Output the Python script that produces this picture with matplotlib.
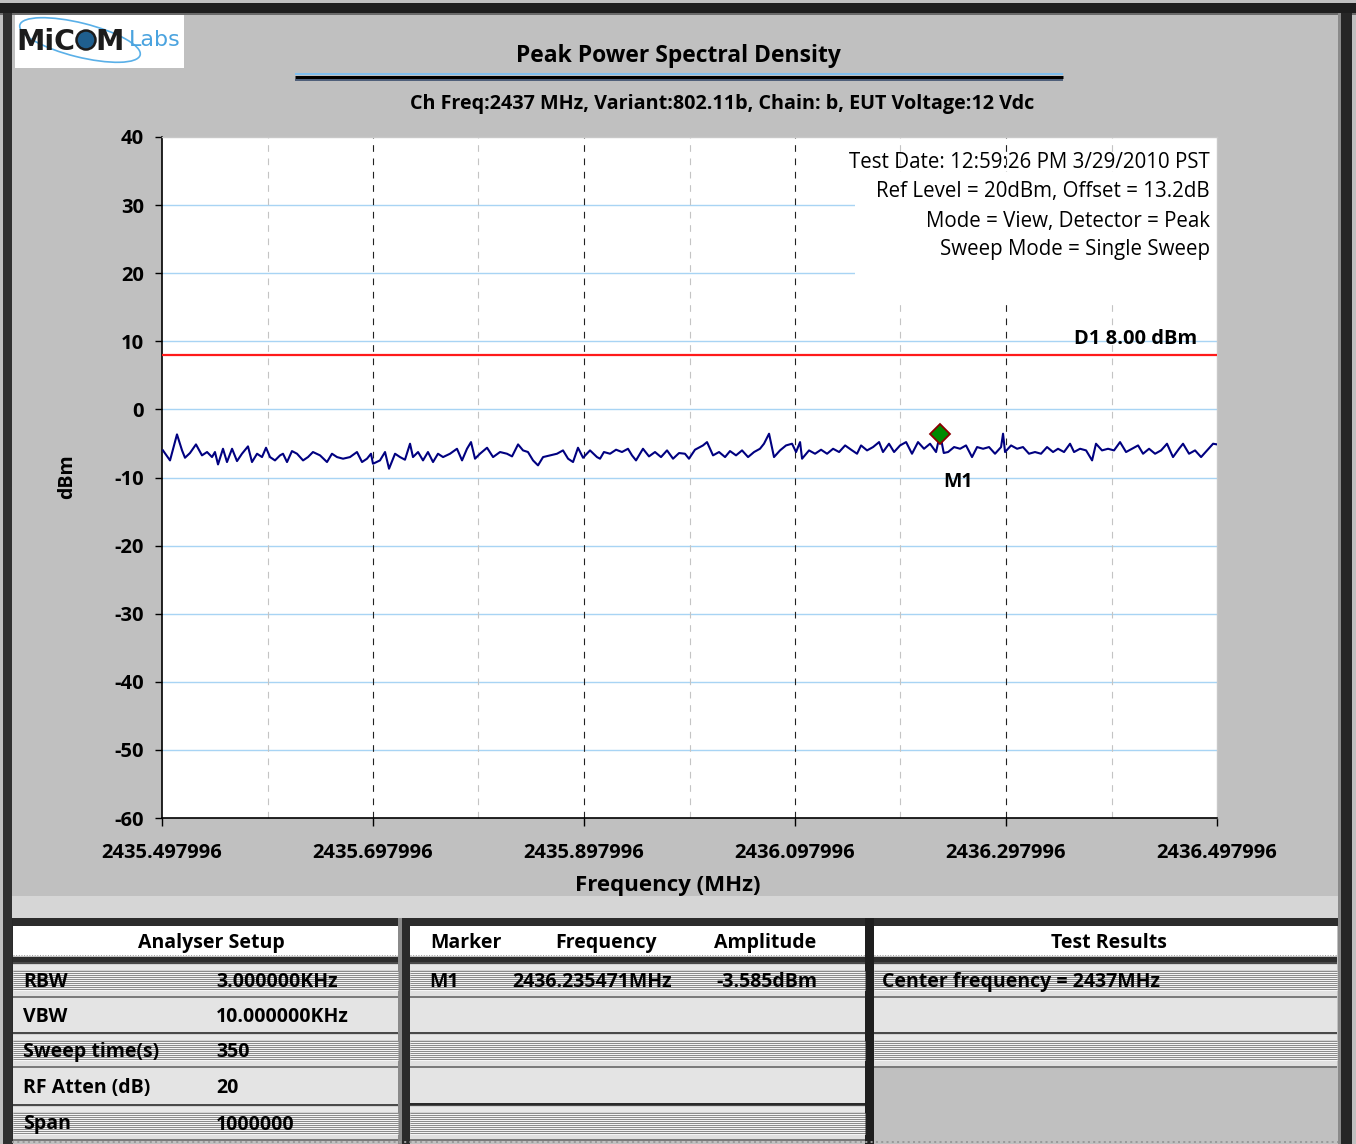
import numpy as np
import matplotlib.pyplot as plt
from matplotlib.patches import Rectangle, Ellipse, Circle

plt.rcParams['font.family'] = ['Open Sans', 'DejaVu Sans']
plt.rcParams['axes.unicode_minus'] = False

W, H = 1356, 1144

# ---- chart data ----
f_start = 2435.497996
f_stop = 2436.497996
x_ticks = [2435.497996, 2435.697996, 2435.897996, 2436.097996, 2436.297996, 2436.497996]
x_minor = [2435.597996, 2435.797996, 2435.997996, 2436.197996, 2436.397996]
y_ticks = [40, 30, 20, 10, 0, -10, -20, -30, -40, -50, -60]

# trace: offset from start frequency in kHz, amplitude in dBm
trace_khz = [0.9, 7.6, 14.2, 19.0, 21.8, 26.5, 32.2, 37.9, 42.7, 47.4, 50.2, 53.1, 57.8, 61.6,
             66.4, 71.1, 75.8, 81.5, 85.3, 90.1, 94.8, 98.6, 102.4, 107.1, 111.9, 114.7, 118.5,
             123.2, 128.0, 133.7, 138.4, 143.1, 149.8, 156.4, 161.1, 165.9, 171.6, 178.2, 184.8,
             189.6, 194.3, 198.1, 200.0, 206.6, 211.4, 215.2, 220.9, 225.6, 230.3, 235.1, 237.9,
             242.7, 247.4, 252.1, 256.9, 261.6, 266.4, 273.0, 279.6, 284.4, 289.1, 292.9, 296.7,
             301.4, 308.1, 313.8, 320.4, 327.0, 331.8, 337.5, 342.2, 346.9, 351.7, 356.4, 361.2,
             367.8, 374.4, 380.1, 384.9, 389.6, 394.3, 399.1, 405.7, 412.3, 415.2, 418.9, 424.7,
             430.4, 436.0, 441.7, 445.5, 449.3, 455.9, 461.6, 467.3, 473.0, 478.7, 484.4, 490.1,
             495.7, 499.5, 505.2, 512.8, 516.6, 522.3, 528.0, 533.7, 538.4, 544.1, 549.8, 555.5,
             561.2, 566.8, 570.6, 575.4, 580.1, 585.8, 591.5, 597.2, 601.0, 604.8, 606.7, 613.3,
             619.0, 624.7, 630.4, 636.1, 641.8, 647.5, 653.2, 658.8, 662.6, 668.3, 674.0, 679.7,
             683.4, 689.1, 693.9, 699.6, 705.3, 710.9, 716.6, 722.3, 728.0, 733.7, 737.5, 741.0,
             745.1, 750.8, 756.5, 762.1, 767.8, 772.6, 778.3, 783.9, 789.6, 795.3, 797.2, 799.1,
             804.8, 810.5, 816.1, 821.8, 827.5, 833.2, 838.9, 844.6, 849.3, 855.0, 860.7, 864.5,
             870.2, 875.9, 881.6, 885.3, 891.0, 896.7, 902.4, 908.1, 913.8, 919.5, 925.2, 929.9,
             935.6, 941.3, 947.0, 952.6, 958.3, 964.0, 967.8, 973.5, 979.2, 984.9, 990.6, 996.3,
             1000.0]
trace_dbm = [-6.02, -7.49, -3.67, -6.02, -7.10, -6.41, -5.14, -6.75, -6.26, -7.00, -6.26, -8.08,
             -5.78, -7.73, -5.78, -7.59, -6.51, -5.43, -7.73, -6.51, -7.00, -5.63, -7.00, -7.49,
             -6.75, -6.51, -7.73, -6.12, -6.51, -7.49, -7.00, -6.26, -6.75, -7.73, -6.51, -7.00,
             -7.24, -7.00, -6.26, -7.73, -7.24, -6.51, -7.98, -7.49, -6.26, -8.71, -6.51, -7.00,
             -7.39, -5.04, -7.00, -6.26, -7.49, -6.26, -7.73, -6.51, -7.00, -6.51, -5.78, -7.49,
             -5.78, -4.80, -7.24, -6.51, -5.63, -7.00, -6.26, -6.51, -6.90, -5.14, -6.02, -6.26,
             -7.49, -8.22, -7.00, -6.75, -6.51, -6.02, -7.24, -7.73, -5.63, -7.10, -6.02, -7.00,
             -7.24, -6.26, -6.51, -5.92, -6.26, -5.78, -6.75, -7.49, -5.78, -6.90, -6.26, -7.00,
             -6.02, -7.24, -6.41, -6.51, -7.24, -5.92, -5.29, -4.80, -6.75, -6.26, -7.00, -6.12,
             -6.75, -6.02, -7.00, -6.26, -5.78, -5.04, -3.57, -7.00, -6.02, -5.29, -5.04, -6.26,
             -4.80, -7.24, -6.02, -6.51, -5.92, -6.51, -5.78, -6.26, -5.29, -5.92, -6.51, -5.29,
             -6.02, -5.53, -4.80, -6.26, -5.04, -6.26, -5.29, -4.80, -6.51, -4.80, -5.78, -5.04,
             -6.26, -3.585, -6.40, -6.26, -5.53, -5.78, -5.29, -7.00, -5.53, -5.78, -5.53, -6.51,
             -5.53, -3.57, -6.26, -5.29, -5.78, -5.53, -6.51, -6.26, -6.51, -5.53, -6.26, -5.78,
             -6.26, -5.04, -6.26, -5.78, -6.02, -7.49, -5.04, -6.02, -5.78, -6.02, -4.80, -6.26,
             -5.78, -5.29, -6.51, -5.78, -6.51, -6.02, -5.04, -7.00, -5.78, -5.04, -6.51, -6.02,
             -7.00, -6.02, -5.04, -5.14]

marker_freq = 2436.235471
marker_dbm = -3.585
limit_dbm = 8.00

title = 'Peak Power Spectral Density'
subtitle = 'Ch Freq:2437 MHz, Variant:802.11b, Chain: b, EUT Voltage:12 Vdc'
info_lines = ['Test Date: 12:59:26 PM 3/29/2010 PST',
              'Ref Level = 20dBm, Offset = 13.2dB',
              'Mode = View, Detector = Peak',
              'Sweep Mode = Single Sweep']

setup_labels = ['RBW', 'VBW', 'Sweep time(s)', 'RF Atten (dB)', 'Span']
setup_values = ['3.000000KHz', '10.000000KHz', '350', '20', '1000000']
marker_header = ['Marker', 'Frequency', 'Amplitude']
marker_row = ['M1', '2436.235471MHz', '-3.585dBm']
result_lines = ['Center frequency = 2437MHz']

# ---- figure and background chrome (pixel coordinates) ----
fig = plt.figure(figsize=(W / 100, H / 100), dpi=100)
bg = fig.add_axes([0, 0, 1, 1])
bg.set_xlim(0, W)
bg.set_ylim(H, 0)
bg.axis('off')


def box(x0, y0, x1, y1, color, z=1):
    bg.add_patch(Rectangle((x0, y0), x1 - x0, y1 - y0, facecolor=color,
                           edgecolor='none', zorder=z))


def hline(y, x0, x1, color, lw_px=1, z=3, ls='-'):
    bg.plot([x0, x1], [y, y], color=color, lw=lw_px * 0.72, zorder=z, ls=ls,
            solid_capstyle='butt')


def striped_row(x0, x1, y0, y1):
    box(x0, y0, x1, y1, '#d2d2d2', 2)
    hline(y0 + 1, x0, x1, '#4a4a4a', 2)
    box(x0, y0 + 3, x1, y0 + 8, '#e8e8e8', 2)
    for y in np.arange(y0 + 9, y1 - 7, 2.0):
        hline(y, x0, x1, '#8c8c8c', 1)
        hline(y + 1, x0, x1, '#f4f4f4', 1)
    box(x0, y1 - 7, x1, y1 - 2, '#e0e0e0', 2)
    hline(y1 - 1, x0, x1, '#7a7a7a', 2)


def plain_row(x0, x1, y0, y1, color='#e4e4e4'):
    box(x0, y0, x1, y1, color, 2)
    hline(y1 - 0.5, x0, x1, '#9a9a9a', 1, ls=':')


box(0, 0, W, H, '#c0c0c0', 0)
box(0, 3, W, 13, '#1e1e1e')
box(0, 13, W, 15, '#6a6a6a')
box(3, 13, 12, H, '#303030')
box(1338, 13, 1341, H, '#8a8a8a')
box(1341, 13, 1352, H, '#262626')
box(12, 896, 1338, 918, '#d6d6d6')

# logo
box(15, 15, 184, 68, 'white', 2)
bg.add_patch(Ellipse((80, 40), 124, 34, angle=14, facecolor='none',
                     edgecolor='#5ab0e8', lw=1.2, zorder=3))
bg.text(16, 42, 'MiC', fontsize=20.5, fontweight='heavy', color='#1c1c1c',
        family='DejaVu Sans', va='center', ha='left', zorder=4)
bg.add_patch(Circle((86, 40), 9.5, facecolor='#1f5f8f', edgecolor='#1c1c1c',
                    lw=1.8, zorder=4))
bg.text(95, 42, 'M', fontsize=20.5, fontweight='heavy', color='#1c1c1c',
        family='DejaVu Sans', va='center', ha='left', zorder=4)
bg.text(129, 40, 'Labs', fontsize=16, color='#4aa3df', family='DejaVu Sans',
        va='center', ha='left', zorder=4)

# title block
bg.text(678, 56, title, fontsize=16.5, fontweight='bold', ha='center', va='center', zorder=4)
hline(74, 295, 1063, '#7fbfef', 2)
hline(77, 295, 1063, '#000000', 3)
hline(80, 295, 1063, '#50607a', 2)
bg.text(722, 104, subtitle, fontsize=14.2, fontweight='bold', ha='center', va='center', zorder=4)

# ---- tables ----
box(12, 918, 1338, 926, '#2c2c2c', 2)
panels = [(13, 398), (410, 865), (874, 1337)]
for x0, x1 in panels:
    box(x0, 926, x1, 956, 'white', 2)
    hline(955, x0, x1, '#9a9a9a', 1, ls=':')
    box(x0, 957, x1, 962, '#2e2e2e', 2)
box(398, 918, 410, H, '#2a2a2a', 2)
box(398, 918, 402, H, '#8a8a8a', 3)
box(865, 918, 874, H, '#1e1e1e', 2)
box(12, 918, 13, H, '#2a2a2a', 3)

rows = [(962, 998), (998, 1032), (1032, 1068), (1068, 1104), (1104, 1141)]
for i, (y0, y1) in enumerate(rows):
    for p, (x0, x1) in enumerate(panels):
        if p == 2 and i >= 3:
            continue
        if i % 2 == 0:
            striped_row(x0, x1, y0, y1)
        else:
            plain_row(x0, x1, y0, y1)
box(874, 1068, 1337, 1141, '#c0c0c0', 2)
hline(1104, 410, 865, '#2a2a2a', 2)
hline(1142, 12, 1338, '#9a9a9a', 2, ls=':')

tfont = dict(fontsize=14, fontweight='bold', va='center', zorder=5)
bg.text(211, 943, 'Analyser Setup', ha='center', **tfont)
for (y0, y1), lab, val in zip(rows, setup_labels, setup_values):
    yc = (y0 + y1) / 2 + 2
    bg.text(23, yc, lab, ha='left', **tfont)
    bg.text(216, yc, val, ha='left', **tfont)
for xc, txt in zip([466, 606, 765], marker_header):
    bg.text(xc, 943, txt, ha='center', **tfont)
row_y = (rows[0][0] + rows[0][1]) / 2 + 2
for xl, txt in zip([429, 512, 716], marker_row):
    bg.text(xl, row_y, txt, ha='left', **tfont)
bg.text(1109, 943, 'Test Results', ha='center', **tfont)
for (y0, y1), txt in zip(rows, result_lines):
    bg.text(882, (y0 + y1) / 2 + 2, txt, ha='left', **tfont)

# ---- main spectrum plot ----
L, R, T, B = 162, 1217, 137, 818
ax = fig.add_axes([L / W, 1 - B / H, (R - L) / W, (B - T) / H])
ax.set_facecolor('white')
ax.set_xlim(f_start, f_stop)
ax.set_ylim(-60, 40)

for y in y_ticks[1:-1]:
    ax.axhline(y, color='#a8d4f4', lw=1, zorder=1)
for x in x_ticks[1:-1]:
    ax.axvline(x, color='#222222', lw=0.8, ls=(0, (6, 6)), zorder=1)
for x in x_minor:
    ax.axvline(x, color='#c4c4c4', lw=0.8, ls=(0, (6, 6)), zorder=1)

# white info panel in upper right
ax.add_patch(Rectangle(((855 - L) / (R - L), (B - 303) / (B - T)),
                       (R - 855) / (R - L), (303 - 172) / (B - T),
                       transform=ax.transAxes, facecolor='white', edgecolor='none', zorder=2))
for i, line in enumerate(info_lines):
    yp = [162, 192, 221, 250][i]
    ax.text((1210 - L) / (R - L), (B - yp) / (B - T), line, transform=ax.transAxes,
            ha='right', va='center', fontsize=14.8, zorder=3)

ax.axhline(limit_dbm, color='#ff1a1a', lw=1.6, zorder=3)
ax.text(f_start + 0.981, limit_dbm + 2.4, 'D1 %.2f dBm' % limit_dbm, ha='right',
        va='center', fontsize=14.5, fontweight='bold', zorder=4)

freqs = f_start + np.array(trace_khz) / 1000.0
ax.plot(freqs, trace_dbm, color='#000080', lw=1.5, zorder=4)
ax.plot([marker_freq], [marker_dbm], marker='D', ms=10, mfc='#008a00', mec='#8b0000',
        mew=1.3, ls='none', zorder=5)
ax.text(marker_freq + 0.017, marker_dbm - 7.1, 'M1', ha='center', va='center',
        fontsize=14, fontweight='bold', zorder=5)

ax.set_xticks(x_ticks)
ax.set_xticklabels(['%.6f' % v for v in x_ticks])
ax.set_yticks(y_ticks)
ax.tick_params(axis='both', direction='out', labelsize=14.5, width=1, color='black')
ax.tick_params(axis='y', length=5, pad=8)
ax.tick_params(axis='x', length=6, pad=12)
for lab in ax.get_xticklabels() + ax.get_yticklabels():
    lab.set_fontweight('bold')

for side in ['left', 'bottom']:
    ax.spines[side].set_color('black')
    ax.spines[side].set_linewidth(1.2)
for side in ['top', 'right']:
    ax.spines[side].set_color('#c8c8c8')
    ax.spines[side].set_linewidth(1)

ax.set_xlabel('Frequency (MHz)', fontsize=16, fontweight='bold')
ax.xaxis.set_label_coords((668 - L) / (R - L), (B - 875) / (B - T))
ax.set_ylabel('dBm', fontsize=14, fontweight='bold')
ax.yaxis.set_label_coords((77 - L) / (R - L), (B - 477) / (B - T))

fig.savefig('out.png', dpi=100)
